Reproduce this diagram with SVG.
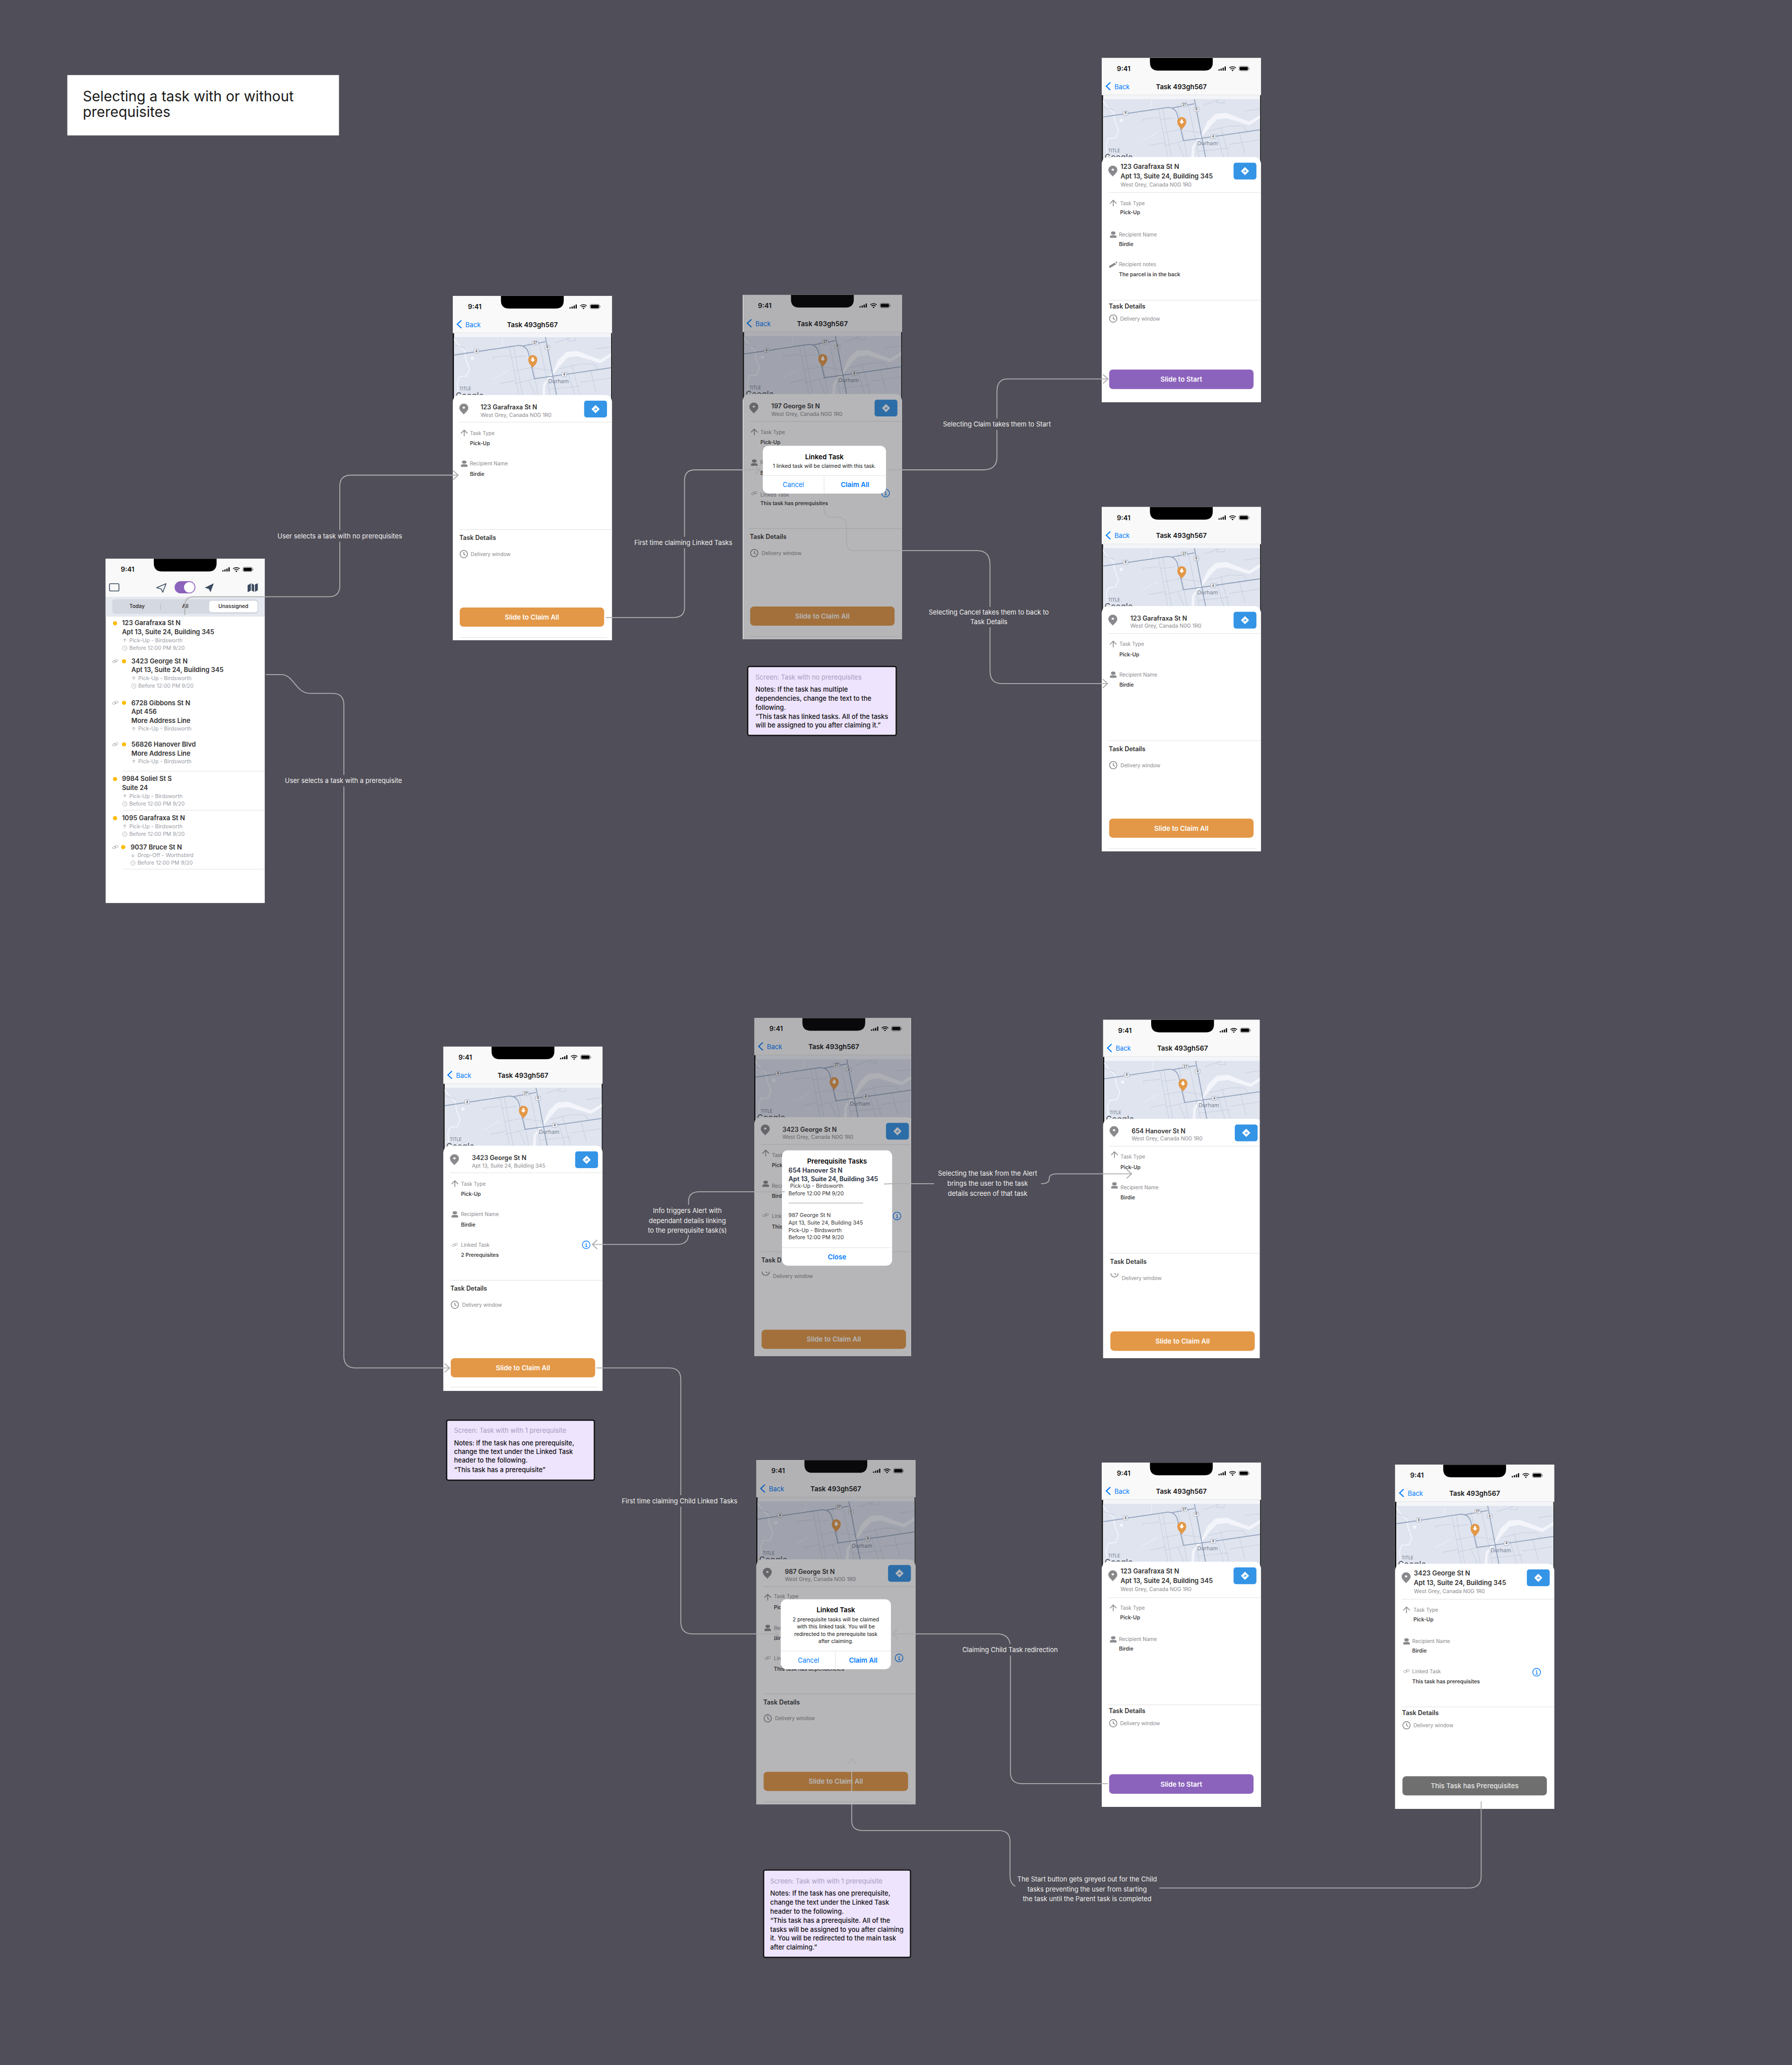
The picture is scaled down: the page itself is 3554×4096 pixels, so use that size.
<svg xmlns="http://www.w3.org/2000/svg" width="3554" height="4096" viewBox="0 0 3554 4096">
<style>
text{font-family:Inter,"Liberation Sans",sans-serif;dominant-baseline:central}
.st{font-size:16.5px;font-weight:600;fill:#111}
.bk{font-size:16px;fill:#007aff}
.tt{font-size:16.5px;font-weight:600;fill:#111;text-anchor:middle}
.sh{font-size:8px;font-weight:600;fill:#555;text-anchor:middle}
.du{font-size:13.5px;fill:#7b8494}
.ti{font-size:10.5px;fill:#6f7888}
.go{font-size:20px;font-weight:600;fill:#5f6775;stroke:#fff;stroke-width:1.5px;paint-order:stroke}
.ad{font-size:15.5px;font-weight:600;fill:#333}
.gr{font-size:13px;fill:#8a8a8e}
.lb{font-size:12.5px;fill:#8a8a8e}
.vl{font-size:12.8px;font-weight:600;fill:#444}
.td{font-size:15.4px;font-weight:600;fill:#333}
.btn{font-size:16.5px;font-weight:600;fill:#fff;text-anchor:middle}
.dt{font-size:16.5px;font-weight:600;fill:#000;text-anchor:middle}
.db{font-size:12.8px;fill:#111;text-anchor:middle}
.dc{font-size:16px;fill:#007aff;text-anchor:middle}
.da{font-size:16.5px;font-weight:600;fill:#007aff;text-anchor:middle}
.pb{font-size:15.4px;font-weight:700;fill:#3a4150}
.pr{font-size:13.2px;fill:#333}
.li{font-size:16px;font-weight:600;fill:#333}
.su{font-size:13.2px;fill:#9a9ea6}
.sg{font-size:13px;font-weight:500;fill:#222;text-anchor:middle}
.nt{font-size:16px;fill:#a79cc0}
.nb{font-size:16px;font-weight:500;fill:#111}
.cl{font-size:16px;fill:#f2f2f2;text-anchor:middle}
.ttl{font-size:35px;fill:#1a1a1a}
.ln{stroke:#e0e0e3;stroke-width:1.2;fill:none}
.dim{fill:#1c1c22;opacity:.32}
.dlg{fill:#fff}
.c{fill:none;stroke:#aeaeb0;stroke-width:2.2}
.f{fill:none;stroke:#a8a8ab;stroke-width:1.8}
.p{fill:none;stroke:#b8b8ba;stroke-width:2}
.bgl{fill:#504e58}
</style>
<defs>
<marker id="chev" viewBox="0 0 16 26" refX="14" refY="13" markerWidth="16" markerHeight="26" markerUnits="userSpaceOnUse" orient="auto"><path d="M2 2L14 13L2 24" fill="none" stroke="#aeaeb0" stroke-width="2.5"/></marker>
<marker id="chevf" viewBox="0 0 16 26" refX="14" refY="13" markerWidth="16" markerHeight="26" markerUnits="userSpaceOnUse" orient="auto"><path d="M2 2L14 13L2 24" fill="none" stroke="#a8a8ab" stroke-width="2"/></marker>
<clipPath id="crop7"><rect width="384" height="829"/></clipPath>
<clipPath id="crop8"><rect width="384" height="830"/></clipPath>
<g id="status">
<path d="M118 0H272V11Q272 31 252 31H138Q118 31 118 11Z" fill="#000"/>
<path d="M286 28h3v3h-3zM291 26h3v5h-3zM296 24h3v7h-3zM301 21h3v10h-3z" fill="#000"/>
<path d="M312.5 24.5a12 12 0 0 1 16 0M315.5 27.5a8 8 0 0 1 10 0" stroke="#000" stroke-width="2" fill="none"/>
<path d="M318 30l2.5 2.5 2.5-2.5a4 4 0 0 0-5 0z" fill="#000"/>
<rect x="336.5" y="20.5" width="23" height="11" rx="3.5" fill="none" stroke="#555"/>
<rect x="338" y="22" width="20" height="8" rx="2" fill="#000"/>
<rect x="360.5" y="24.5" width="1.5" height="3.5" fill="#777"/>
</g>
<g id="top">
<rect width="390" height="844" fill="#fff"/>
<rect width="390" height="91" fill="#f9f9f9"/>
<use href="#status"/>
<path d="M21 60L11 69.5L21 79" fill="none" stroke="#007aff" stroke-width="2.6"/>
<rect y="91" width="390" height="11" fill="#f3f5f9"/>
<rect y="91" width="3" height="166" fill="#000"/>
<rect x="388" y="91" width="2" height="166" fill="#000"/>
<rect y="90" width="390" height="1.2" fill="#e0e0e3"/>
<rect x="3" y="101" width="385" height="156" fill="#dfe4ef"/>
<path d="M242 193L259 156L279 137L306 135L346 151L362 156L388 140V148L362 165L342 159L306 148L282 151L266 168L246 193ZM219 257L221 218L232 201L244 190L247 193L236 206L227 220L226 257Z" fill="#f3f5fa"/>
<path d="M3 106L16 123L29 135L32 156L41 179L34 196L16 198L11 212L14 257" fill="none" stroke="#f3f5fa" stroke-width="2.4"/>
<circle cx="48" cy="153" r="4" fill="#f3f5fa"/>
<path d="M99 204L119 193L137 183M122 103L121 123L89 135" fill="none" stroke="#f3f5fa" stroke-width="1.2"/>
<path d="M139 125L162 244M149 122L171 244M212 114L239 244M186 114L209 244M142 151L179 147M149 184L192 176L246 184M152 215L186 207L212 201M186 207L202 244M281 184L299 244M291 168L312 244M261 179L312 167L346 167L357 181M337 181L351 235M116 215L156 207M312 212L388 201M236 229L312 221M3 120L30 128M100 150L140 146M100 150V156M250 115L290 102M300 102V110H282V102M350 130L388 125" fill="none" stroke="#c7cedd" stroke-width="1.3"/>
<path d="M3 145L161 121.5Q182 121.5 186 142L200 203L272 193L388 176M172 122.6L227 112.5M227 101L257 257" fill="none" stroke="#94a3bd" stroke-width="2.2"/>
<rect x="52" y="130.5" width="12" height="10" rx="2" fill="#f2f4f8" stroke="#9aa3b3"/>
<rect x="195" y="110" width="14" height="10" rx="2" fill="#f2f4f8" stroke="#9aa3b3"/>
<rect x="226" y="121.5" width="12" height="10" rx="2" fill="#f2f4f8" stroke="#9aa3b3"/>
<rect x="267" y="188" width="12" height="10" rx="2" fill="#f2f4f8" stroke="#9aa3b3"/>
<path d="M196 176C192 170 185 166 185 156A11 11 0 0 1 207 156C207 166 200 170 196 176Z" fill="#e39847"/>
<path d="M193.5 151h5v5h3.5l-6 6l-6-6h3.500z" fill="#fff"/>
</g>
<g id="sheet">
<path d="M0 261Q0 243 18 243H372Q390 243 390 261V844H0Z" fill="#fff"/>
</g>
<g id="i-pin"><path d="M0 14C-3 9-11 5-11-2.500A11 10.500 0 0 1 11-2.500C11 5 3 9 0 14Z" fill="#8a8a8e"/><ellipse cy="-3" rx="3" ry="2.500" fill="#fff"/></g>
<g id="i-nav"><rect x="-28" y="-20.500" width="56" height="41" rx="6" fill="#3494e6"/><path d="M0-9L9 0L0 9L-9 0Z" fill="#fff" stroke="#fff" stroke-width="1.500" stroke-linejoin="round"/><path d="M-2.500 3V0H2.500M0-2.500L3 0L0 2.500" fill="none" stroke="#3494e6" stroke-width="1.400"/></g>
<g id="i-up"><path d="M-8 1L0-7L8 1M0-7V8" fill="none" stroke="#8a8a8e" stroke-width="2"/></g>
<g id="i-person"><ellipse cy="-3.500" rx="5.500" ry="4" fill="#8a8a8e"/><path d="M-8 8V4.500Q-8 1.500 0 1.500Q8 1.500 8 4.500V8Z" fill="#8a8a8e"/></g>
<g id="i-link"><g transform="rotate(-20)" fill="none" stroke="#9a9a9e" stroke-width="1"><rect x="-7" y="-2.500" width="8" height="5" rx="2.500"/><rect x="-1" y="-2.500" width="8" height="5" rx="2.500"/></g></g>
<g id="i-clock"><circle r="9" fill="none" stroke="#8a8a8e" stroke-width="2"/><path d="M0-5V0L4 3" fill="none" stroke="#8a8a8e" stroke-width="2"/></g>
<g id="i-clockcut"><path d="M-9 0A9 9 0 0 0 9 0M0 0L4 3" fill="none" stroke="#8a8a8e" stroke-width="2"/></g>
<g id="i-pencil"><path d="M-9 7L-9 3L5-5L8-1L-5 7ZM7-7L10-8L11-4L9-3Z" fill="#8a8a8e"/></g>
<g id="i-info"><circle r="9.500" fill="none" stroke="#007aff" stroke-width="1.700"/><path d="M-2-1H0.500V4.500M-2.500 4.500H3" fill="none" stroke="#007aff" stroke-width="1.500"/><circle cx="0" cy="-4" r="1.200" fill="#007aff"/></g>
<g id="s-up"><path d="M-4 0L0-4L4 0M0-4V4" fill="none" stroke="#9a9ea6" stroke-width="1.200"/></g>
<g id="s-down"><path d="M-4 0L0 4L4 0M0 4V-4" fill="none" stroke="#9a9ea6" stroke-width="1.200"/></g>
<g id="s-clock"><circle r="5.500" fill="none" stroke="#9a9ea6"/><path d="M0-3V0L2.500 2" fill="none" stroke="#9a9ea6"/></g>
<circle id="s-dot" r="5" fill="#fbbc05"/>
</defs>
<rect width="3554" height="4096" fill="#504e58"/>
<g transform="scale(0.80902)">

<g id="title">
<rect x="165" y="184" width="666" height="148" fill="#fff"/>
<text class="ttl" x="203" y="236">Selecting a task with or without</text>
<text class="ttl" x="203" y="274">prerequisites</text>
</g>

<g id="phone-list" transform="translate(259,1370)">
<rect width="390" height="844" fill="#fff"/>
<rect width="390" height="93" fill="#f9f9f9"/>
<use href="#status" y="0"/>
<text class="st" x="37" y="26">9:41</text>
<rect x="9.500" y="61" width="23" height="18" rx="2.500" fill="none" stroke="#3b4a5e" stroke-width="2"/>
<path d="M125 71L148 61L140 82L136 74Z" fill="none" stroke="#3b4a5e" stroke-width="2" stroke-linejoin="round"/>
<rect x="169" y="55" width="51" height="30" rx="15" fill="#8c63bc"/>
<circle cx="205" cy="70" r="13" fill="#fff"/>
<path d="M243 71L265 60L257 82L253 74Z" fill="#3b4a5e"/>
<path d="M348 65L356 60V78L348 82ZM358 60L364 64V81L358 78ZM366 63L373 60V77L366 81Z" fill="#3b4a5e"/>
<rect y="93" width="390" height="49" fill="#e5e8ef"/>
<rect x="16" y="99" width="358" height="36" rx="8" fill="#d4d8e0"/>
<rect x="254" y="103" width="118" height="28" rx="6" fill="#fff"/>
<rect x="134" y="109" width="1" height="16" fill="#aeb3bc"/>
<text class="sg" x="77" y="117">Today</text>
<text class="sg" x="195" y="117">All</text>
<text class="sg" x="313" y="117">Unassigned</text>

<use href="#s-dot" x="23" y="158"/>
<text class="li" x="40" y="157">123 Garafraxa St N</text>
<text class="li" x="40" y="179">Apt 13, Suite 24, Building 345</text>
<use href="#s-up" x="47" y="200"/><text class="su" x="58" y="200">Pick-Up - Birdsworth</text>
<use href="#s-clock" x="47" y="219"/><text class="su" x="58" y="219">Before 12:00 PM 9/20</text>

<use href="#i-link" x="23.500" y="251"/><use href="#s-dot" x="45" y="251.500"/>
<text class="li" x="63" y="250">3423 George St N</text>
<text class="li" x="63" y="272">Apt 13, Suite 24, Building 345</text>
<use href="#s-up" x="69" y="293"/><text class="su" x="80" y="293">Pick-Up - Birdsworth</text>
<use href="#s-clock" x="69" y="312"/><text class="su" x="80" y="312">Before 12:00 PM 9/20</text>

<use href="#i-link" x="23.500" y="353"/><use href="#s-dot" x="45" y="353"/>
<text class="li" x="63" y="352.500">6728 Gibbons St N</text>
<text class="li" x="63" y="374">Apt 456</text>
<text class="li" x="63" y="396">More Address Line</text>
<use href="#s-up" x="69" y="417"/><text class="su" x="80" y="417">Pick-Up - Birdsworth</text>

<use href="#i-link" x="23.500" y="455"/><use href="#s-dot" x="45" y="455"/>
<text class="li" x="63" y="454">56826 Hanover Blvd</text>
<text class="li" x="63" y="476.500">More Address Line</text>
<use href="#s-up" x="69" y="497"/><text class="su" x="80" y="497">Pick-Up - Birdsworth</text>
<path class="ln" d="M42 520.700H390"/>

<use href="#s-dot" x="23" y="540"/>
<text class="li" x="40" y="539">9984 Soliel St S</text>
<text class="li" x="40" y="561">Suite 24</text>
<use href="#s-up" x="47" y="582"/><text class="su" x="58" y="582">Pick-Up - Birdsworth</text>
<use href="#s-clock" x="47" y="601"/><text class="su" x="58" y="601">Before 12:00 PM 9/20</text>
<path class="ln" d="M42 616.600H390"/>

<use href="#s-dot" x="23" y="636"/>
<text class="li" x="40" y="635">1095 Garafraxa St N</text>
<use href="#s-up" x="47" y="656"/><text class="su" x="58" y="656">Pick-Up - Birdsworth</text>
<use href="#s-clock" x="47" y="675"/><text class="su" x="58" y="675">Before 12:00 PM 9/20</text>

<use href="#i-link" x="23.500" y="707"/><use href="#s-dot" x="43" y="707"/>
<text class="li" x="61" y="706">9037 Bruce St N</text>
<use href="#s-down" x="67" y="727"/><text class="su" x="78" y="727">Drop-Off - Worthsbird</text>
<use href="#s-clock" x="67" y="746"/><text class="su" x="78" y="746">Before 12:00 PM 9/20</text>
<path class="ln" d="M42 761H390"/>
</g>

<g id="phone-no-prereq" transform="translate(1110,725.500)">
<use href="#top"/>
<text class="st" x="37" y="26">9:41</text><text class="bk" x="31" y="70">Back</text><text class="tt" x="195" y="70">Task 493gh567</text><text class="sh" x="58" y="135.500">4</text><text class="sh" x="202" y="115">27</text><text class="sh" x="232" y="126.500">6</text><text class="sh" x="273" y="193">4</text><text class="du" x="234" y="209.500">Durham</text><text class="ti" x="16" y="228">TITLE</text><text class="go" x="7" y="243">Google</text>
<use href="#sheet"/>
<use href="#i-pin" x="27" y="277"/>
<text class="ad" x="68" y="273">123 Garafraxa St N</text><text class="gr" x="68" y="292">West Grey, Canada N0G 1R0</text>
<use href="#i-nav" x="350" y="277.500"/>
<path class="ln" d="M15 309.500H390"/>
<use href="#i-up" x="28" y="336"/><text class="lb" x="42" y="336">Task Type</text><text class="vl" x="42" y="361">Pick-Up</text>
<use href="#i-person" x="28" y="411"/><text class="lb" x="42" y="411">Recipient Name</text><text class="vl" x="42" y="436.500">Birdie</text>
<path class="ln" d="M15 573H390"/>
<text class="td" x="16" y="593">Task Details</text>
<use href="#i-clock" x="27" y="633"/><text class="lb" x="44" y="633">Delivery window</text>
<rect x="17" y="764" width="354" height="47" rx="9" fill="#e39847"/><text class="btn" x="194" y="787.500">Slide to Claim All</text>
<path class="ln" d="M15 837.500H378"/>
</g>

<g id="phone-linked-alert" transform="translate(1821,723)">
<use href="#top"/>
<text class="st" x="37" y="26">9:41</text><text class="bk" x="31" y="70">Back</text><text class="tt" x="195" y="70">Task 493gh567</text><text class="sh" x="58" y="135.500">4</text><text class="sh" x="202" y="115">27</text><text class="sh" x="232" y="126.500">6</text><text class="sh" x="273" y="193">4</text><text class="du" x="234" y="209.500">Durham</text><text class="ti" x="16" y="228">TITLE</text><text class="go" x="7" y="243">Google</text>
<use href="#sheet"/>
<use href="#i-pin" x="27" y="277"/>
<text class="ad" x="70" y="273">197 George St N</text><text class="gr" x="70" y="292">West Grey, Canada N0G 1R0</text>
<use href="#i-nav" x="351" y="277.500"/>
<path class="ln" d="M16 310H390"/>
<use href="#i-up" x="28" y="336"/><text class="lb" x="43" y="336">Task Type</text><text class="vl" x="43" y="361">Pick-Up</text>
<use href="#i-person" x="28" y="411"/><text class="lb" x="43" y="411">R</text><text class="vl" x="43" y="437">B</text>
<use href="#i-link" x="28" y="486"/><text class="lb" x="43" y="490">Linked Task</text><text class="vl" x="43" y="511">This task has prerequisites</text>
<use href="#i-info" x="350" y="486"/>
<path class="ln" d="M16 573H390"/>
<text class="td" x="17" y="593">Task Details</text>
<use href="#i-clock" x="28" y="633"/><text class="lb" x="46" y="633">Delivery window</text>
<rect x="18" y="764" width="354" height="47" rx="9" fill="#e39847"/><text class="btn" x="195" y="787.500">Slide to Claim All</text>
<path class="ln" d="M16 838H378"/>
<rect class="dim" x="1" width="389" height="844"/>
<rect class="dlg" x="49" y="370" width="302" height="117" rx="14"/>
<text class="dt" x="200" y="397">Linked Task</text>
<text class="db" x="200" y="419">1 linked task will be claimed with this task.</text>
<path class="ln" d="M49 443H351M199 443V487"/>
<text class="dc" x="124" y="465">Cancel</text><text class="da" x="275" y="465">Claim All</text>
</g>

<g id="note-no-prereq">
<rect x="1833" y="1634" width="364" height="169" rx="4" fill="#eee4fd" stroke="#111" stroke-width="3"/>
<text class="nt" x="1852" y="1660">Screen: Task with no prerequisites</text>
<text class="nb" x="1852" y="1690">Notes: If the task has multiple</text>
<text class="nb" x="1852" y="1712">dependencies, change the text to the</text>
<text class="nb" x="1852" y="1734">following.</text>
<text class="nb" x="1852" y="1756">“This task has linked tasks. All of the tasks</text>
<text class="nb" x="1852" y="1778">will be assigned to you after claiming it.”</text>
</g>

<g id="phone-start-notes" transform="translate(2701,142)">
<use href="#top"/>
<text class="st" x="37" y="26">9:41</text><text class="bk" x="31" y="70">Back</text><text class="tt" x="195" y="70">Task 493gh567</text><text class="sh" x="58" y="135.500">4</text><text class="sh" x="202" y="115">27</text><text class="sh" x="232" y="126.500">6</text><text class="sh" x="273" y="193">4</text><text class="du" x="234" y="209.500">Durham</text><text class="ti" x="16" y="228">TITLE</text><text class="go" x="7" y="243">Google</text>
<use href="#sheet"/>
<use href="#i-pin" x="27" y="277"/>
<text class="li" x="46" y="266">123 Garafraxa St N</text><text class="li" x="46" y="289">Apt 13, Suite 24, Building 345</text><text class="gr" x="46" y="311">West Grey, Canada N0G 1R0</text>
<use href="#i-nav" x="351" y="277.500"/>
<path class="ln" d="M16 330H390"/>
<use href="#i-up" x="28" y="356"/><text class="lb" x="45" y="356">Task Type</text><text class="vl" x="45" y="379">Pick-Up</text>
<use href="#i-person" x="28" y="433"/><text class="lb" x="42" y="433">Recipient Name</text><text class="vl" x="42" y="456">Birdie</text>
<use href="#i-pencil" x="27" y="507"/><text class="lb" x="42" y="506">Recipient notes</text><text class="vl" x="42" y="531">The parcel is in the back</text>
<path class="ln" d="M16 594H390"/>
<text class="td" x="17" y="609">Task Details</text>
<use href="#i-clock" x="28" y="639"/><text class="lb" x="45" y="639">Delivery window</text>
<rect x="18" y="764" width="354" height="48" rx="9" fill="#8c63bc"/><text class="btn" x="195" y="788">Slide to Start</text>
</g>

<g id="phone-cancel" transform="translate(2701,1243)">
<use href="#top"/>
<text class="st" x="37" y="26">9:41</text><text class="bk" x="31" y="70">Back</text><text class="tt" x="195" y="70">Task 493gh567</text><text class="sh" x="58" y="135.500">4</text><text class="sh" x="202" y="115">27</text><text class="sh" x="232" y="126.500">6</text><text class="sh" x="273" y="193">4</text><text class="du" x="234" y="209.500">Durham</text><text class="ti" x="16" y="228">TITLE</text><text class="go" x="7" y="243">Google</text>
<use href="#sheet"/>
<use href="#i-pin" x="27" y="277"/>
<text class="ad" x="70" y="273">123 Garafraxa St N</text><text class="gr" x="70" y="292">West Grey, Canada N0G 1R0</text>
<use href="#i-nav" x="351" y="277.500"/>
<path class="ln" d="M16 310H390"/>
<use href="#i-up" x="28" y="336"/><text class="lb" x="43" y="336">Task Type</text><text class="vl" x="43" y="361">Pick-Up</text>
<use href="#i-person" x="28" y="411"/><text class="lb" x="43" y="411">Recipient Name</text><text class="vl" x="43" y="436">Birdie</text>
<path class="ln" d="M16 573H390"/>
<text class="td" x="17" y="593">Task Details</text>
<use href="#i-clock" x="28" y="633"/><text class="lb" x="46" y="633">Delivery window</text>
<rect x="18" y="764" width="354" height="47" rx="9" fill="#e39847"/><text class="btn" x="195" y="787.500">Slide to Claim All</text>
<path class="ln" d="M16 838H378"/>
</g>

<g id="phone-prereq" transform="translate(1087,2566)">
<use href="#top"/>
<text class="st" x="37" y="26">9:41</text><text class="bk" x="31" y="70">Back</text><text class="tt" x="195" y="70">Task 493gh567</text><text class="sh" x="58" y="135.500">4</text><text class="sh" x="202" y="115">27</text><text class="sh" x="232" y="126.500">6</text><text class="sh" x="273" y="193">4</text><text class="du" x="234" y="209.500">Durham</text><text class="ti" x="16" y="228">TITLE</text><text class="go" x="7" y="243">Google</text>
<use href="#sheet"/>
<use href="#i-pin" x="27" y="277"/>
<text class="ad" x="70" y="273">3423 George St N</text><text class="gr" x="70" y="292">Apt 13, Suite 24, Building 345</text>
<use href="#i-nav" x="351" y="277.500"/>
<path class="ln" d="M16 309.500H390"/>
<use href="#i-up" x="28" y="336"/><text class="lb" x="43" y="336">Task Type</text><text class="vl" x="43" y="361">Pick-Up</text>
<use href="#i-person" x="28" y="411"/><text class="lb" x="43" y="411">Recipient Name</text><text class="vl" x="43" y="436">Birdie</text>
<use href="#i-link" x="28" y="486"/><text class="lb" x="43" y="486">Linked Task</text><text class="vl" x="43" y="511">2 Prerequisites</text>
<use href="#i-info" x="350" y="486"/>
<path class="ln" d="M16 573H390"/>
<text class="td" x="17" y="593">Task Details</text>
<use href="#i-clock" x="28" y="633"/><text class="lb" x="46" y="633">Delivery window</text>
<rect x="18" y="764" width="354" height="47" rx="9" fill="#e39847"/><text class="btn" x="195" y="787.500">Slide to Claim All</text>
<path class="ln" d="M16 835H378"/>
</g>

<g id="note-one-prereq">
<rect x="1095" y="3482" width="362" height="147" rx="4" fill="#eee4fd" stroke="#111" stroke-width="3"/>
<text class="nt" x="1113" y="3507">Screen: Task with with 1 prerequisite</text>
<text class="nb" x="1113" y="3537">Notes: If the task has one prerequisite,</text>
<text class="nb" x="1113" y="3559">change the text under the Linked Task</text>
<text class="nb" x="1113" y="3580">header to the following.</text>
<text class="nb" x="1113" y="3603">“This task has a prerequisite”</text>
</g>

<g id="phone-prereq-alert" transform="translate(1849,2496)">
<g clip-path="url(#crop7)">
<use href="#top"/>
<text class="st" x="37" y="26">9:41</text><text class="bk" x="31" y="70">Back</text><text class="tt" x="195" y="70">Task 493gh567</text><text class="sh" x="58" y="135.500">4</text><text class="sh" x="202" y="115">27</text><text class="sh" x="232" y="126.500">6</text><text class="sh" x="273" y="193">4</text><text class="du" x="234" y="209.500">Durham</text><text class="ti" x="16" y="228">TITLE</text><text class="go" x="7" y="243">Google</text>
<use href="#sheet"/>
<use href="#i-pin" x="27" y="274"/>
<text class="ad" x="69" y="273">3423 George St N</text><text class="gr" x="69" y="292">West Grey, Canada N0G 1R0</text>
<use href="#i-nav" x="351" y="277.500"/>
<path class="ln" d="M16 310H384"/>
<use href="#i-up" x="28" y="331"/><text class="lb" x="43" y="336">Task</text><text class="vl" x="43" y="361">Pick</text>
<use href="#i-person" x="28" y="406"/><text class="lb" x="43" y="411">Reci</text><text class="vl" x="43" y="436">Bird</text>
<use href="#i-link" x="28" y="483"/><text class="lb" x="43" y="486">Link</text><text class="vl" x="43" y="511">This</text>
<use href="#i-info" x="350" y="485.500"/>
<path class="ln" d="M16 573H384"/>
<text class="td" x="17" y="593">Task D</text>
<use href="#i-clockcut" x="28" y="622"/><text class="lb" x="46" y="633">Delivery window</text>
<rect x="18" y="764" width="354" height="47" rx="9" fill="#e39847"/><text class="btn" x="195" y="787.500">Slide to Claim All</text>
<rect class="dim" width="384" height="829"/>
</g>
<rect class="dlg" x="68" y="324.500" width="270" height="282.500" rx="14"/>
<text class="dt" x="203" y="351">Prerequisite Tasks</text>
<text class="pb" x="84" y="374">654 Hanover St N</text>
<text class="pb" x="84" y="394">Apt 13, Suite 24, Building 345</text>
<text class="pr" x="88" y="412">Pick-Up - Birdsworth</text>
<text class="pr" x="84" y="430">Before 12:00 PM 9/20</text>
<path d="M84 453.600H267" stroke="#7d8290" stroke-width="1"/>
<text class="pr" x="84" y="484">987 George St N</text>
<text class="pr" x="84" y="502">Apt 13, Suite 24, Building 345</text>
<text class="pr" x="84" y="520">Pick-Up - Birdsworth</text>
<text class="pr" x="84" y="538">Before 12:00 PM 9/20</text>
<path class="ln" d="M68 563H338"/>
<text class="da" x="203" y="585">Close</text>
</g>

<g id="phone-hanover" transform="translate(2704,2500)">
<g clip-path="url(#crop8)">
<use href="#top"/>
<text class="st" x="37" y="26">9:41</text><text class="bk" x="31" y="70">Back</text><text class="tt" x="195" y="70">Task 493gh567</text><text class="sh" x="58" y="135.500">4</text><text class="sh" x="202" y="115">27</text><text class="sh" x="232" y="126.500">6</text><text class="sh" x="273" y="193">4</text><text class="du" x="234" y="209.500">Durham</text><text class="ti" x="16" y="228">TITLE</text><text class="go" x="7" y="243">Google</text>
<use href="#sheet"/>
<use href="#i-pin" x="27" y="274"/>
<text class="ad" x="70" y="273">654 Hanover St N</text><text class="gr" x="70" y="292">West Grey, Canada N0G 1R0</text>
<use href="#i-nav" x="351" y="277.500"/>
<path class="ln" d="M16 310H384"/>
<use href="#i-up" x="28" y="331"/><text class="lb" x="43" y="336">Task Type</text><text class="vl" x="43" y="361">Pick-Up</text>
<use href="#i-person" x="28" y="406"/><text class="lb" x="43" y="411">Recipient Name</text><text class="vl" x="43" y="436">Birdie</text>
<path class="ln" d="M16 573H384"/>
<text class="td" x="17" y="593">Task Details</text>
<use href="#i-clockcut" x="28" y="622"/><text class="lb" x="46" y="633">Delivery window</text>
<rect x="18" y="764" width="354" height="48" rx="9" fill="#e39847"/><text class="btn" x="195" y="788">Slide to Claim All</text>
</g>
</g>

<g id="phone-child-alert" transform="translate(1854,3580)">
<use href="#top"/>
<text class="st" x="37" y="26">9:41</text><text class="bk" x="31" y="70">Back</text><text class="tt" x="195" y="70">Task 493gh567</text><text class="sh" x="58" y="135.500">4</text><text class="sh" x="202" y="115">27</text><text class="sh" x="232" y="126.500">6</text><text class="sh" x="273" y="193">4</text><text class="du" x="234" y="209.500">Durham</text><text class="ti" x="16" y="228">TITLE</text><text class="go" x="7" y="243">Google</text>
<use href="#sheet"/>
<use href="#i-pin" x="27" y="277"/>
<text class="ad" x="70" y="273">987 George St N</text><text class="gr" x="70" y="292">West Grey, Canada N0G 1R0</text>
<use href="#i-nav" x="351" y="277.500"/>
<path class="ln" d="M16 310H390"/>
<use href="#i-up" x="28" y="336"/><text class="lb" x="43" y="334">Task Type</text><text class="vl" x="43" y="361">Pic</text>
<use href="#i-person" x="28" y="411"/><text class="lb" x="43" y="411">Rec</text><text class="vl" x="43" y="436">Bir</text>
<use href="#i-link" x="28" y="485"/><text class="lb" x="43" y="485">Lin</text><text class="vl" x="43" y="512">This task has dependencies</text>
<use href="#i-info" x="350" y="485"/>
<path class="ln" d="M16 573H390"/>
<text class="td" x="17" y="593">Task Details</text>
<use href="#i-clock" x="28" y="633"/><text class="lb" x="46" y="633">Delivery window</text>
<rect x="18" y="764" width="354" height="47" rx="9" fill="#e39847"/><text class="btn" x="195" y="787.500">Slide to Claim All</text>
<path class="ln" d="M16 838H378"/>
<rect class="dim" width="390" height="844"/>
<rect class="dlg" x="60" y="341" width="270" height="171.500" rx="14"/>
<text class="dt" x="195" y="367">Linked Task</text>
<text class="db" x="195" y="390">2 prerequisite tasks will be claimed</text>
<text class="db" x="195" y="407.500">with this linked task. You will be</text>
<text class="db" x="195" y="425.500">redirected to the prerequisite task</text>
<text class="db" x="195" y="444">after claiming.</text>
<path class="ln" d="M60 468H330M194 468V512"/>
<text class="dc" x="128" y="490">Cancel</text><text class="da" x="262" y="490">Claim All</text>
</g>

<g id="note-child">
<rect x="1872" y="4585" width="360" height="214" rx="4" fill="#eee4fd" stroke="#111" stroke-width="3"/>
<text class="nt" x="1888" y="4612">Screen: Task with with 1 prerequisite</text>
<text class="nb" x="1888" y="4642">Notes: If the task has one prerequisite,</text>
<text class="nb" x="1888" y="4664">change the text under the Linked Task</text>
<text class="nb" x="1888" y="4686">header to the following.</text>
<text class="nb" x="1888" y="4708">“This task has a prerequisite. All of the</text>
<text class="nb" x="1888" y="4730">tasks will be assigned to you after claiming</text>
<text class="nb" x="1888" y="4752">it. You will be redirected to the main task</text>
<text class="nb" x="1888" y="4774">after claiming.”</text>
</g>

<g id="phone-start" transform="translate(2701,3586)">
<use href="#top"/>
<text class="st" x="37" y="26">9:41</text><text class="bk" x="31" y="70">Back</text><text class="tt" x="195" y="70">Task 493gh567</text><text class="sh" x="58" y="135.500">4</text><text class="sh" x="202" y="115">27</text><text class="sh" x="232" y="126.500">6</text><text class="sh" x="273" y="193">4</text><text class="du" x="234" y="209.500">Durham</text><text class="ti" x="16" y="228">TITLE</text><text class="go" x="7" y="243">Google</text>
<use href="#sheet"/>
<use href="#i-pin" x="27" y="277"/>
<text class="li" x="46" y="266">123 Garafraxa St N</text><text class="li" x="46" y="289">Apt 13, Suite 24, Building 345</text><text class="gr" x="46" y="311">West Grey, Canada N0G 1R0</text>
<use href="#i-nav" x="351" y="277.500"/>
<path class="ln" d="M16 331H390"/>
<use href="#i-up" x="28" y="356"/><text class="lb" x="45" y="356">Task Type</text><text class="vl" x="45" y="379">Pick-Up</text>
<use href="#i-person" x="28" y="433"/><text class="lb" x="42" y="433">Recipient Name</text><text class="vl" x="42" y="456">Birdie</text>
<path class="ln" d="M16 594H390"/>
<text class="td" x="17" y="609">Task Details</text>
<use href="#i-clock" x="28" y="639"/><text class="lb" x="45" y="639">Delivery window</text>
<rect x="18" y="764" width="354" height="48" rx="9" fill="#8c63bc"/><text class="btn" x="195" y="788">Slide to Start</text>
</g>

<g id="phone-greyed" transform="translate(3420,3591)">
<use href="#top"/>
<text class="st" x="37" y="26">9:41</text><text class="bk" x="31" y="70">Back</text><text class="tt" x="195" y="70">Task 493gh567</text><text class="sh" x="58" y="135.500">4</text><text class="sh" x="202" y="115">27</text><text class="sh" x="232" y="126.500">6</text><text class="sh" x="273" y="193">4</text><text class="du" x="234" y="209.500">Durham</text><text class="ti" x="16" y="228">TITLE</text><text class="go" x="7" y="243">Google</text>
<use href="#sheet"/>
<use href="#i-pin" x="27" y="277"/>
<text class="li" x="46" y="266">3423 George St N</text><text class="li" x="46" y="289">Apt 13, Suite 24, Building 345</text><text class="gr" x="46" y="311">West Grey, Canada N0G 1R0</text>
<use href="#i-nav" x="351" y="277.500"/>
<path class="ln" d="M16 330H390"/>
<use href="#i-up" x="28" y="356"/><text class="lb" x="45" y="356">Task Type</text><text class="vl" x="45" y="379">Pick-Up</text>
<use href="#i-person" x="28" y="433"/><text class="lb" x="42" y="433">Recipient Name</text><text class="vl" x="42" y="456">Birdie</text>
<use href="#i-link" x="28" y="506"/><text class="lb" x="42" y="506">Linked Task</text><text class="vl" x="42" y="531">This task has prerequisites</text>
<use href="#i-info" x="347" y="509"/>
<path class="ln" d="M16 594H390"/>
<text class="td" x="17" y="609">Task Details</text>
<use href="#i-clock" x="28" y="639"/><text class="lb" x="45" y="639">Delivery window</text>
<rect x="18" y="764" width="354" height="47" rx="9" fill="#6f6f6f"/><text class="btn" x="195" y="787.500" style="fill:#e8e8e8;font-weight:500">This Task has Prerequisites</text>
</g>

<g id="connectors">
<path class="c" marker-end="url(#chev)" d="M453 1508V1485Q453 1463 475 1463H806Q833 1463 833 1436V1192Q833 1165 860 1165H1123"/>
<path class="c" marker-end="url(#chev)" d="M652 1654H690C720 1654 725 1700 760 1700H815Q843 1700 843 1728V3325Q843 3354 872 3354H1102"/>
<path class="c" d="M1485 1514H1650Q1678 1514 1678 1490V1178Q1678 1152 1704 1152H1821"/>
<path class="f" marker-end="url(#chevf)" d="M1821 1152H1863"/>
<path class="f" d="M2175 1152H2211"/>
<path class="c" marker-end="url(#chev)" d="M2211 1152H2411Q2444 1152 2444 1120V960Q2444 929 2470 929H2716"/>
<path class="f" d="M2020 1236V1250Q2022 1268 2040 1268H2055Q2075 1271 2075 1292V1327Q2075 1350 2095 1350H2211"/>
<path class="c" marker-end="url(#chev)" d="M2211 1350H2395Q2427 1350 2427 1385V1645Q2427 1676 2455 1676H2715"/>
<path class="c" d="M1924 2922H1917"/>
<path class="f" d="M1917 2922H1849"/>
<path class="c" marker-end="url(#chev)" d="M1849 2922H1715Q1688 2922 1688 2945V3025Q1688 3051 1660 3051H1452"/>
<path class="c" d="M2167 2903L2187 2902"/>
<path class="f" d="M2187 2902H2233"/>
<path class="c" marker-end="url(#chev)" d="M2233 2902H2555Q2572 2902 2572 2890Q2572 2878 2590 2878H2774"/>
<path class="c" d="M1462 3354H1640Q1669 3354 1669 3382V3976Q1669 4006 1698 4006H1854"/>
<path class="f" marker-end="url(#chevf)" d="M1854 4006H1908"/>
<path class="f" marker-end="url(#chevf)" d="M2244 4006H2188"/>
<path class="c" d="M2244 4006H2445Q2477 4006 2477 4040V4345Q2477 4373 2505 4373H2716"/>
<path class="c" d="M3631 4417V4600Q3631 4629 3600 4629H2510Q2476 4629 2476 4600V4515Q2476 4488 2448 4488H2115Q2088 4488 2088 4465V4424"/>
<path class="p" marker-end="url(#chevf)" d="M2088 4424V4313"/>

<rect class="bgl" x="676" y="1300" width="314" height="28"/><text class="cl" x="833" y="1314">User selects a task with no prerequisites</text>
<rect class="bgl" x="690" y="1900" width="304" height="28"/><text class="cl" x="842" y="1914">User selects a task with a prerequisite</text>
<rect class="bgl" x="1548" y="1316" width="254" height="28"/><text class="cl" x="1675" y="1330">First time claiming Linked Tasks</text>
<rect class="bgl" x="2308" y="1026" width="272" height="28"/><text class="cl" x="2444" y="1040">Selecting Claim takes them to Start</text>
<rect class="bgl" x="2270" y="1488" width="308" height="50"/><text class="cl" x="2424" y="1501">Selecting Cancel takes them to back to</text><text class="cl" x="2424" y="1524">Task Details</text>
<rect class="bgl" x="1578" y="2954" width="214" height="74"/><text class="cl" x="1685" y="2968">Info triggers Alert with</text><text class="cl" x="1685" y="2992">dependant details linking</text><text class="cl" x="1685" y="3016">to the prerequisite task(s)</text>
<rect class="bgl" x="2290" y="2864" width="262" height="74"/><text class="cl" x="2421" y="2876">Selecting the task from the Alert</text><text class="cl" x="2421" y="2901">brings the user to the task</text><text class="cl" x="2421" y="2926">details screen of that task</text>
<rect class="bgl" x="1520" y="3666" width="296" height="28"/><text class="cl" x="1666" y="3680">First time claiming Child Linked Tasks</text>
<rect class="bgl" x="2354" y="4031" width="244" height="28"/><text class="cl" x="2476" y="4045">Claiming Child Task redirection</text>
<rect class="bgl" x="2489" y="4595" width="353" height="72"/><text class="cl" x="2665" y="4607">The Start button gets greyed out for the Child</text><text class="cl" x="2665" y="4631">tasks preventing the user from starting</text><text class="cl" x="2665" y="4655">the task until the Parent task is completed</text>
</g>
</g>
</svg>
